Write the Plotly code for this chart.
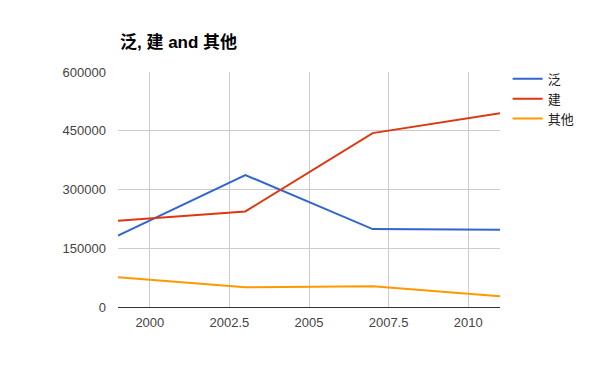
import plotly.graph_objects as go

years = [1999, 2003, 2007, 2011]
fan = [182000, 337000, 199000, 197000]
jian = [220000, 244000, 444000, 494500]
other = [75800, 50300, 52800, 27300]

series_names = ["泛", "建", "其他"]
colors = ["#3366cc", "#dc3912", "#ff9900"]

x_tickvals = [2000, 2002.5, 2005, 2007.5, 2010]
x_ticktext = ["2000", "2002.5", "2005", "2007.5", "2010"]
y_tickvals = [0, 150000, 300000, 450000, 600000]
y_ticktext = ["0", "150000", "300000", "450000", "600000"]

fig = go.Figure()
for name, vals, c in zip(series_names, [fan, jian, other], colors):
    fig.add_trace(go.Scatter(x=years, y=vals, mode="lines", name=name,
                             line=dict(color=c, width=2)))

font_family = "Liberation Sans, Arial, Noto Sans CJK SC, sans-serif"
W, H = 615, 371
fig.update_layout(
    width=W, height=H,
    margin=dict(l=110, r=123, t=64, b=72),
    paper_bgcolor="white", plot_bgcolor="white",
    font=dict(family=font_family, size=13, color="#444444"),
    title=dict(text="<b>泛, 建 and 其他</b>", x=112/W, xanchor="left",
               y=1-34/H, yanchor="middle",
               font=dict(size=17, color="#000000", family=font_family)),
    xaxis=dict(range=[1999, 2011], tickvals=x_tickvals, ticktext=x_ticktext,
               showgrid=True, gridcolor="#cccccc", gridwidth=1,
               zeroline=False, showline=False, ticks="",
               ticklabelstandoff=6,
               tickfont=dict(size=13, color="#444444")),
    yaxis=dict(range=[0, 600000], tickvals=y_tickvals, ticktext=y_ticktext,
               showgrid=True, gridcolor="#cccccc", gridwidth=1,
               zeroline=True, zerolinecolor="#333333", zerolinewidth=1,
               showline=False, ticks="",
               ticklabelstandoff=11,
               tickfont=dict(size=13, color="#444444")),
    legend=dict(x=1.02, y=1.035, xanchor="left", yanchor="top",
                font=dict(size=13, color="#222222"),
                bgcolor="rgba(0,0,0,0)", tracegroupgap=0),
    showlegend=True,
)

fig.write_html("out.html")
